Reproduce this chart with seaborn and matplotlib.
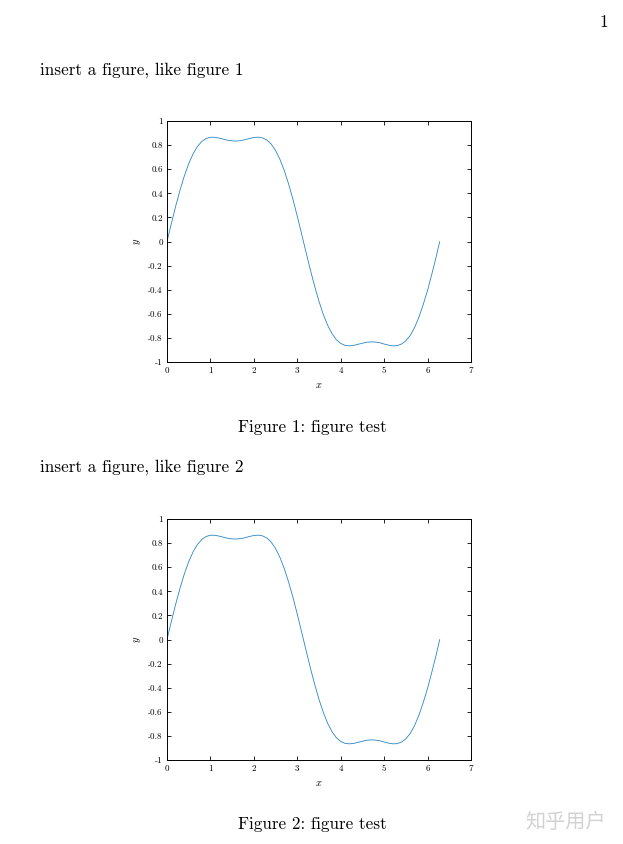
import matplotlib
matplotlib.use("Agg")
import matplotlib.pyplot as plt
import seaborn as sns
import pandas as pd

# curve (same curve in both figures)
x_vals = [0.0, 0.1, 0.2, 0.3, 0.4, 0.5, 0.6, 0.7, 0.8, 0.9,
          1.0, 1.1, 1.2, 1.3, 1.4, 1.5, 1.6, 1.7, 1.8, 1.9,
          2.0, 2.1, 2.2, 2.3, 2.4, 2.5, 2.6, 2.7, 2.8, 2.9,
          3.0, 3.1, 3.2, 3.3, 3.4, 3.5, 3.6, 3.7, 3.8, 3.9,
          4.0, 4.1, 4.2, 4.3, 4.4, 4.5, 4.6, 4.7, 4.8, 4.9,
          5.0, 5.1, 5.2, 5.3, 5.4, 5.5, 5.6, 5.7, 5.8, 5.9,
          6.0, 6.1, 6.2, 6.28]
y_vals = [0.0, 0.149, 0.293, 0.426, 0.545, 0.646, 0.727, 0.788, 0.830, 0.855,
          0.865, 0.865, 0.858, 0.849, 0.840, 0.835, 0.834, 0.837, 0.845, 0.855,
          0.863, 0.866, 0.860, 0.842, 0.808, 0.755, 0.682, 0.589, 0.477, 0.350,
          0.210, 0.062, -0.087, -0.234, -0.372, -0.497, -0.606, -0.696, -0.765, -0.815,
          -0.846, -0.862, -0.866, -0.862, -0.853, -0.844, -0.836, -0.833, -0.835, -0.840,
          -0.851, -0.860, -0.866, -0.864, -0.851, -0.824, -0.780, -0.715, -0.629, -0.523,
          -0.405, -0.268, -0.124, 0.0]
x_ticks = [0, 1, 2, 3, 4, 5, 6, 7]
y_ticks = [-1, -0.8, -0.6, -0.4, -0.2, 0, 0.2, 0.4, 0.6, 0.8, 1]
y_tick_labels = ["-1", "-0.8", "-0.6", "-0.4", "-0.2", "0", "0.2", "0.4", "0.6", "0.8", "1"]
captions = ["Figure 1: figure test", "Figure 2: figure test"]
intro = ["insert a figure, like figure 1", "insert a figure, like figure 2"]

df = pd.DataFrame({"x": x_vals, "y": y_vals})

sns.set_style("ticks")
plt.rcParams["font.family"] = ["cmr10", "DejaVu Serif"]
plt.rcParams["mathtext.fontset"] = "cm"
plt.rcParams["axes.unicode_minus"] = False
plt.rcParams["axes.formatter.use_mathtext"] = True
plt.rcParams["text.color"] = "black"
plt.rcParams["axes.labelcolor"] = "black"
plt.rcParams["xtick.color"] = "black"
plt.rcParams["ytick.color"] = "black"

fig = plt.figure(figsize=(6.23, 8.44), dpi=100)
fig.patch.set_facecolor("white")

W, H = 623, 844
axes_boxes = [(167, 121, 471, 362), (167, 519, 471, 760)]

for i, (l, t, r, b) in enumerate(axes_boxes):
    ax = fig.add_axes([l / W, 1 - b / H, (r - l) / W, (b - t) / H])
    sns.lineplot(data=df, x="x", y="y", ax=ax, color="#2a86c4", linewidth=0.6)
    ax.set_xlim(0, 7)
    ax.set_ylim(-1, 1)
    ax.set_xticks(x_ticks)
    ax.set_xticklabels([str(v) for v in x_ticks])
    ax.set_yticks(y_ticks)
    ax.set_yticklabels(y_tick_labels)
    ax.tick_params(direction="in", length=3, width=0.6, labelsize=6.5,
                   top=True, right=True, pad=3)
    for s in ax.spines.values():
        s.set_linewidth(0.7)
        s.set_color("black")
    ax.set_xlabel("$x$", fontsize=7.5, labelpad=4)
    ax.set_ylabel("$y$", fontsize=7.5, labelpad=4)

    # text of the page around each figure
    fig.text(40 / W, 1 - (70 + i * 397) / H, intro[i], fontsize=12.3,
             ha="left", va="center")
    fig.text(312 / W, 1 - (427 + i * 397) / H, captions[i], fontsize=12.3,
             ha="center", va="center")

fig.text(604 / W, 1 - 22 / H, "1", fontsize=12.3, ha="center", va="center")
fig.text(566 / W, 1 - 823 / H, "知乎用户", fontsize=14.5, color="#d2d2d2",
         family=["Noto Sans CJK SC", "DejaVu Sans"], ha="center", va="center")

fig.savefig("out.png", dpi=100)
